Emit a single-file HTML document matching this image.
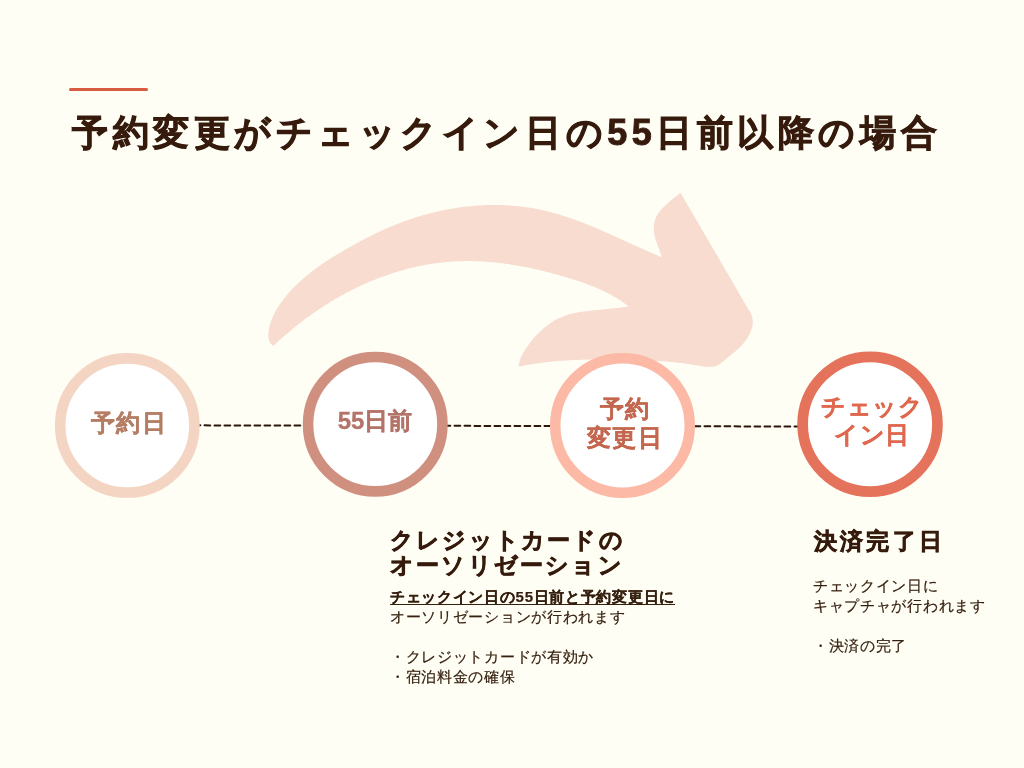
<!DOCTYPE html>
<html lang="ja"><head><meta charset="utf-8">
<style>
html,body{margin:0;padding:0;}
body{-webkit-font-smoothing:antialiased;width:1024px;height:768px;background:#FEFEF5;position:relative;overflow:hidden;font-family:"Liberation Sans",sans-serif;color:#361B0D;}
.abs{position:absolute;}
.title,.ct,.h,.p{will-change:transform;}
.accent{left:69px;top:88px;width:79px;height:3px;border-radius:2px;background:#D75C42;}
.title{left:72px;top:108.5px;font-size:36px;font-weight:bold;letter-spacing:4.55px;line-height:48px;white-space:nowrap;color:#361B0D;-webkit-text-stroke:0.9px #361B0D;}
.ct{position:absolute;-webkit-text-stroke-width:0.3px;width:140px;text-align:center;font-weight:bold;font-size:24px;line-height:28px;white-space:nowrap;}
.h{font-size:23px;font-weight:bold;letter-spacing:2.2px;line-height:25px;white-space:nowrap;color:#361B0D;-webkit-text-stroke:0.7px #361B0D;}
.p{font-size:15px;letter-spacing:0.7px;line-height:20px;white-space:nowrap;color:#36200F;-webkit-text-stroke:0.2px #36200F;}
.p b{font-weight:bold;color:#361B0D;text-decoration:underline;text-underline-offset:2px;}
</style></head><body>
<div class="abs accent"></div>
<div class="abs title">予約変更がチェックイン日の55日前以降の場合</div>
<svg class="abs" style="left:0;top:0" width="1024" height="768" viewBox="0 0 1024 768">
<path d="M273.2,346.1 L271.6,344.6 L270.3,343.0 L269.4,341.3 L268.8,339.5 L268.4,337.7 L268.2,335.8 L268.3,333.9 L268.5,332.0 L268.7,330.0 L269.1,328.1 L269.6,326.2 L270.1,324.3 L270.7,322.4 L271.3,320.5 L272.0,318.7 L272.8,316.9 L273.6,315.0 L274.5,313.2 L275.5,311.5 L276.4,309.7 L277.5,308.0 L278.6,306.2 L279.7,304.5 L280.9,302.8 L282.1,301.2 L283.3,299.5 L284.6,297.9 L285.9,296.3 L287.2,294.7 L288.6,293.1 L290.0,291.6 L291.4,290.1 L292.8,288.6 L294.2,287.1 L295.7,285.7 L297.1,284.2 L298.6,282.8 L300.1,281.5 L301.6,280.1 L303.1,278.8 L304.6,277.4 L306.2,276.1 L307.7,274.9 L309.3,273.6 L310.8,272.4 L312.4,271.1 L314.0,269.9 L315.6,268.7 L317.2,267.6 L318.8,266.4 L320.4,265.2 L322.1,264.1 L323.7,263.0 L325.4,261.9 L327.0,260.8 L328.7,259.7 L330.4,258.6 L332.1,257.6 L333.8,256.5 L335.4,255.5 L337.1,254.4 L338.9,253.4 L340.6,252.4 L342.3,251.4 L344.0,250.3 L345.7,249.3 L347.5,248.3 L349.2,247.4 L351.0,246.4 L352.7,245.4 L354.5,244.4 L356.2,243.5 L358.0,242.5 L359.8,241.5 L361.5,240.6 L363.3,239.7 L365.1,238.7 L366.9,237.8 L368.7,236.9 L370.5,236.0 L372.3,235.1 L374.1,234.2 L375.9,233.3 L377.7,232.5 L379.5,231.6 L381.4,230.8 L383.2,229.9 L385.0,229.1 L386.9,228.3 L388.7,227.5 L390.6,226.7 L392.4,225.9 L394.3,225.2 L396.2,224.4 L398.1,223.7 L399.9,222.9 L401.8,222.2 L403.7,221.5 L405.6,220.8 L407.5,220.2 L409.4,219.5 L411.3,218.9 L413.2,218.2 L415.2,217.6 L417.1,217.0 L419.0,216.4 L421.0,215.8 L422.9,215.3 L424.8,214.7 L426.8,214.2 L428.7,213.7 L430.7,213.1 L432.7,212.7 L434.6,212.2 L436.6,211.7 L438.5,211.3 L440.5,210.8 L442.5,210.4 L444.5,210.0 L446.4,209.6 L448.4,209.2 L450.4,208.9 L452.4,208.5 L454.4,208.2 L456.4,207.9 L458.4,207.6 L460.4,207.3 L462.4,207.1 L464.4,206.8 L466.4,206.6 L468.4,206.4 L470.4,206.2 L472.4,206.0 L474.4,205.8 L476.4,205.6 L478.4,205.5 L480.4,205.4 L482.4,205.3 L484.4,205.2 L486.4,205.1 L488.4,205.1 L490.4,205.0 L492.4,205.0 L494.4,205.0 L496.4,205.0 L498.4,205.0 L500.4,205.1 L502.4,205.1 L504.4,205.2 L506.4,205.3 L508.4,205.4 L510.4,205.5 L512.4,205.7 L514.4,205.9 L516.4,206.0 L518.4,206.2 L520.4,206.5 L522.3,206.7 L524.3,206.9 L526.3,207.2 L528.3,207.5 L530.3,207.8 L532.2,208.1 L534.2,208.5 L536.2,208.8 L538.1,209.2 L540.1,209.6 L542.0,210.0 L544.0,210.5 L545.9,210.9 L547.9,211.4 L549.8,211.9 L551.8,212.4 L553.7,212.9 L555.6,213.5 L557.6,214.0 L559.5,214.6 L561.4,215.2 L563.3,215.8 L565.2,216.4 L567.2,217.0 L569.1,217.7 L571.0,218.3 L572.9,219.0 L574.8,219.7 L576.7,220.4 L578.6,221.1 L580.4,221.8 L582.3,222.5 L584.2,223.3 L586.1,224.0 L588.0,224.8 L589.9,225.5 L591.7,226.3 L593.6,227.1 L595.5,227.8 L597.4,228.6 L599.2,229.4 L601.1,230.2 L602.9,231.0 L604.8,231.9 L606.7,232.7 L608.5,233.5 L610.4,234.3 L612.2,235.2 L614.1,236.0 L615.9,236.8 L617.8,237.7 L619.6,238.5 L621.5,239.3 L623.3,240.2 L625.1,241.0 L627.0,241.9 L628.8,242.7 L630.6,243.5 L632.5,244.4 L634.3,245.2 L636.1,246.0 L638.0,246.9 L639.8,247.7 L641.6,248.5 L643.5,249.3 L645.3,250.2 L647.1,251.0 L648.9,251.8 L650.8,252.6 L652.6,253.4 L654.4,254.1 L656.2,254.9 L658.1,255.7 L659.9,256.4 L661.7,257.2 L661.2,255.3 L660.6,253.4 L659.9,251.4 L659.2,249.5 L658.4,247.5 L657.7,245.5 L657.0,243.5 L656.2,241.5 L655.6,239.4 L655.0,237.4 L654.6,235.4 L654.2,233.3 L653.9,231.3 L653.8,229.3 L653.8,227.3 L653.9,225.3 L654.2,223.4 L654.6,221.5 L655.1,219.6 L655.8,217.8 L656.7,216.0 L657.7,214.3 L658.9,212.6 L660.1,210.9 L661.5,209.3 L662.9,207.7 L664.5,206.2 L666.0,204.7 L667.7,203.2 L669.3,201.8 L671.0,200.4 L672.6,199.1 L674.3,197.7 L675.9,196.5 L677.5,195.2 L679.0,194.0 L680.5,192.8 L748.5,309.4 L749.8,311.2 L750.8,313.0 L751.6,314.9 L752.2,316.8 L752.6,318.8 L752.7,320.8 L752.7,322.8 L752.6,324.7 L752.2,326.7 L751.8,328.7 L751.1,330.6 L750.4,332.5 L749.6,334.3 L748.6,336.1 L747.6,337.9 L746.4,339.6 L745.2,341.2 L743.9,342.8 L742.6,344.3 L741.2,345.8 L739.7,347.3 L738.3,348.7 L736.8,350.0 L735.3,351.4 L733.7,352.7 L732.2,353.9 L730.6,355.2 L729.1,356.5 L727.5,357.8 L726.0,359.1 L724.4,360.5 L722.8,361.8 L721.2,363.1 L719.5,364.2 L717.8,365.2 L715.9,365.9 L714.0,366.4 L712.1,366.7 L710.1,366.8 L708.1,366.8 L706.0,366.7 L704.0,366.5 L702.0,366.3 L700.0,366.0 L698.0,365.6 L696.0,365.3 L694.0,364.9 L692.0,364.6 L690.0,364.3 L688.0,364.0 L686.0,363.7 L683.9,363.4 L681.9,363.1 L679.9,362.9 L677.9,362.7 L675.9,362.4 L673.9,362.2 L671.9,362.1 L669.8,361.9 L667.8,361.7 L665.8,361.5 L663.8,361.4 L661.8,361.3 L659.8,361.1 L657.7,361.0 L655.7,360.9 L653.7,360.8 L651.7,360.7 L649.7,360.6 L647.6,360.5 L645.6,360.4 L643.6,360.4 L641.6,360.3 L639.6,360.2 L637.5,360.2 L635.5,360.1 L633.5,360.0 L631.5,360.0 L629.4,359.9 L627.4,359.9 L625.4,359.8 L623.4,359.8 L621.4,359.7 L619.3,359.7 L617.3,359.7 L615.3,359.6 L613.3,359.6 L611.2,359.6 L609.2,359.6 L607.2,359.6 L605.2,359.5 L603.1,359.5 L601.1,359.5 L599.1,359.5 L597.1,359.5 L595.0,359.6 L593.0,359.6 L591.0,359.6 L589.0,359.6 L586.9,359.7 L584.9,359.7 L582.9,359.8 L580.9,359.8 L578.8,359.9 L576.8,359.9 L574.8,360.0 L572.8,360.1 L570.8,360.2 L568.7,360.3 L566.7,360.4 L564.7,360.6 L562.7,360.7 L560.7,360.8 L558.6,361.0 L556.6,361.1 L554.6,361.3 L552.6,361.5 L550.6,361.7 L548.6,361.9 L546.6,362.1 L544.6,362.4 L542.5,362.6 L540.5,362.9 L538.5,363.2 L536.5,363.4 L534.5,363.7 L532.5,364.1 L530.5,364.4 L528.5,364.7 L526.6,365.1 L524.6,365.5 L522.6,365.9 L520.6,366.3 L518.6,366.7 L518.8,364.7 L519.2,362.7 L519.7,360.8 L520.3,358.9 L521.0,357.1 L521.9,355.3 L522.8,353.5 L523.8,351.8 L524.9,350.1 L526.0,348.4 L527.2,346.7 L528.4,345.0 L529.6,343.4 L530.9,341.7 L532.2,340.1 L533.5,338.5 L534.8,337.0 L536.2,335.5 L537.7,334.0 L539.1,332.5 L540.6,331.1 L542.1,329.7 L543.7,328.3 L545.3,327.0 L546.9,325.7 L548.5,324.5 L550.2,323.3 L551.9,322.2 L553.6,321.1 L555.4,320.1 L557.1,319.2 L558.9,318.3 L560.8,317.4 L562.6,316.7 L564.5,315.9 L566.4,315.3 L568.3,314.7 L570.2,314.1 L572.2,313.6 L574.1,313.2 L576.1,312.8 L578.1,312.4 L580.1,312.1 L582.1,311.7 L584.2,311.5 L586.2,311.2 L588.2,311.0 L590.3,310.7 L592.3,310.5 L594.4,310.3 L596.4,310.1 L598.5,309.9 L600.5,309.7 L602.5,309.5 L604.6,309.3 L606.6,309.1 L608.6,308.9 L610.6,308.6 L612.7,308.4 L614.7,308.2 L616.7,307.9 L618.7,307.7 L620.7,307.4 L622.7,307.2 L624.8,307.0 L626.8,306.8 L628.8,306.6 L627.2,305.3 L625.6,304.1 L623.9,302.9 L622.3,301.8 L620.6,300.6 L618.9,299.5 L617.2,298.5 L615.5,297.4 L613.8,296.4 L612.1,295.4 L610.3,294.4 L608.6,293.5 L606.8,292.6 L605.0,291.7 L603.2,290.9 L601.4,290.0 L599.6,289.2 L597.8,288.4 L595.9,287.6 L594.1,286.9 L592.3,286.1 L590.4,285.4 L588.5,284.7 L586.7,284.0 L584.8,283.3 L582.9,282.6 L581.0,282.0 L579.1,281.3 L577.2,280.7 L575.3,280.1 L573.4,279.5 L571.4,278.9 L569.5,278.3 L567.6,277.7 L565.6,277.1 L563.7,276.5 L561.8,275.9 L559.8,275.4 L557.9,274.8 L555.9,274.3 L553.9,273.8 L552.0,273.2 L550.0,272.7 L548.1,272.2 L546.1,271.7 L544.1,271.2 L542.1,270.7 L540.2,270.3 L538.2,269.8 L536.2,269.3 L534.2,268.9 L532.2,268.5 L530.2,268.0 L528.2,267.6 L526.2,267.2 L524.2,266.8 L522.2,266.5 L520.2,266.1 L518.2,265.7 L516.2,265.4 L514.2,265.1 L512.2,264.7 L510.2,264.4 L508.2,264.1 L506.2,263.9 L504.1,263.6 L502.1,263.3 L500.1,263.1 L498.1,262.9 L496.1,262.6 L494.1,262.4 L492.0,262.2 L490.0,262.1 L488.0,261.9 L486.0,261.8 L484.0,261.6 L482.0,261.5 L479.9,261.4 L477.9,261.3 L475.9,261.2 L473.9,261.2 L471.9,261.1 L469.9,261.1 L467.9,261.1 L465.8,261.1 L463.8,261.1 L461.8,261.2 L459.8,261.2 L457.8,261.3 L455.8,261.4 L453.8,261.5 L451.8,261.6 L449.8,261.8 L447.8,261.9 L445.8,262.1 L443.8,262.3 L441.8,262.5 L439.8,262.7 L437.8,263.0 L435.8,263.2 L433.9,263.5 L431.9,263.8 L429.9,264.1 L427.9,264.5 L426.0,264.8 L424.0,265.2 L422.0,265.5 L420.1,265.9 L418.1,266.3 L416.1,266.8 L414.2,267.2 L412.2,267.7 L410.3,268.1 L408.3,268.6 L406.4,269.1 L404.5,269.7 L402.5,270.2 L400.6,270.7 L398.7,271.3 L396.7,271.9 L394.8,272.5 L392.9,273.1 L391.0,273.7 L389.1,274.4 L387.2,275.0 L385.3,275.7 L383.4,276.4 L381.5,277.1 L379.6,277.8 L377.7,278.5 L375.9,279.2 L374.0,280.0 L372.1,280.7 L370.3,281.5 L368.4,282.3 L366.5,283.1 L364.7,283.9 L362.9,284.8 L361.0,285.6 L359.2,286.5 L357.4,287.3 L355.6,288.2 L353.7,289.1 L351.9,290.0 L350.1,290.9 L348.3,291.9 L346.5,292.8 L344.8,293.8 L343.0,294.7 L341.2,295.7 L339.4,296.7 L337.7,297.7 L335.9,298.7 L334.2,299.8 L332.4,300.8 L330.7,301.8 L329.0,302.9 L327.2,304.0 L325.5,305.1 L323.8,306.1 L322.1,307.2 L320.4,308.4 L318.7,309.5 L317.1,310.6 L315.4,311.8 L313.7,312.9 L312.1,314.1 L310.4,315.3 L308.8,316.4 L307.1,317.6 L305.5,318.8 L303.9,320.0 L302.3,321.3 L300.7,322.5 L299.1,323.7 L297.5,325.0 L295.9,326.2 L294.3,327.5 L292.8,328.8 L291.2,330.1 L289.7,331.4 L288.1,332.7 L286.6,334.0 L285.1,335.3 L283.5,336.6 L282.0,337.9 L280.5,339.3 L279.1,340.6 L277.6,342.0 L276.1,343.3 L274.7,344.7 L273.2,346.1 Z" fill="#F7DCCF"/>
<line x1="194.5" y1="425.35" x2="805" y2="426.5" stroke="#2B170C" stroke-width="2" stroke-linecap="round" stroke-dasharray="5.8 4.2"/>
<circle cx="127.3" cy="425.45" r="67.1" fill="#fff" stroke="#F4D5C3" stroke-width="10.6"/>
<circle cx="375.25" cy="424.2" r="67.2" fill="#fff" stroke="#D09080" stroke-width="10.6"/>
<circle cx="622.5" cy="425.45" r="67.25" fill="#fff" stroke="#FCB9A5" stroke-width="10.5"/>
<circle cx="870.05" cy="424.2" r="67.4" fill="#fff" stroke="#E5735B" stroke-width="10.7"/>
</svg>
<div class="ct" style="left:58.5px;top:408.5px;letter-spacing:1.3px;color:#B47E64;">予約日</div>
<div class="ct" style="left:305px;top:407px;color:#B47368;">55日前</div>
<div class="ct" style="left:554.5px;top:393.5px;line-height:29px;letter-spacing:1.3px;color:#C4674F;">予約<br>変更日</div>
<div class="ct" style="left:802px;top:393px;letter-spacing:0.5px;color:#E0684F;">チェック<br>イン日</div>
<div class="abs h" style="left:390px;top:528px;">クレジットカードの<br>オーソリゼーション</div>
<div class="abs p" style="left:390px;top:587px;"><b>チェックイン日の55日前と予約変更日に</b><br>オーソリゼーションが行われます<br><br>・クレジットカードが有効か<br>・宿泊料金の確保</div>
<div class="abs h" style="left:814px;top:529px;letter-spacing:3.2px;">決済完了日</div>
<div class="abs p" style="left:813px;top:576px;">チェックイン日に<br>キャプチャが行われます<br><br>・決済の完了</div>
</body></html>
